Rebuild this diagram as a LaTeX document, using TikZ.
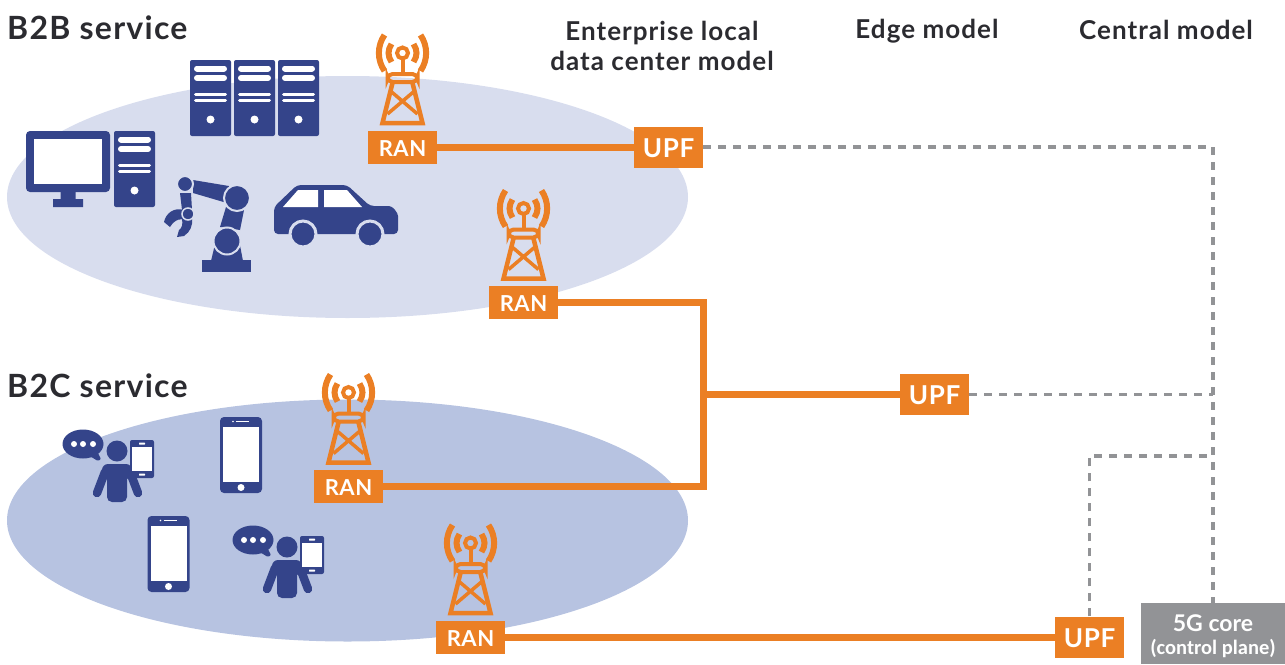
\documentclass[tikz,border=0pt]{standalone}
\usepackage{fontspec}
\setmainfont{Lato}
\newfontfamily\condfont{Carlito}
\newfontfamily\wideheadfont[LetterSpace=4,BoldFont={Lato Bold}]{Lato}
\newfontfamily\widelabelfont[LetterSpace=2.5,BoldFont={Lato Bold}]{Lato}
\usepackage{tikz}
\usetikzlibrary{shapes.geometric}

\definecolor{RanOrange}{HTML}{EB7F24}
\definecolor{IconBlue}{HTML}{34448A}
\definecolor{BizFill}{HTML}{D8DDEE}
\definecolor{ConsFill}{HTML}{B7C3E1}
\definecolor{CoreGray}{HTML}{929396}
\definecolor{HeadText}{HTML}{2B2B30}

\tikzset{
  ranbox/.style={fill=RanOrange, text=white, font=\widelabelfont\fontsize{22}{22}\selectfont\bfseries,
    text height=18pt, minimum width=69pt, minimum height=33pt, inner sep=0pt},
  upfbox/.style={fill=RanOrange, text=white, font=\widelabelfont\fontsize{26}{26}\selectfont\bfseries,
    text height=21pt, minimum width=69pt, minimum height=41pt, inner sep=0pt},
  corebox/.style={fill=CoreGray, text=white, align=center, font=\fontsize{23}{23}\selectfont\bfseries,
    minimum width=144pt, minimum height=61pt, inner sep=0pt},
  zone/.style={ellipse, minimum width=681pt, minimum height=242pt, inner sep=0pt},
  service/.style={text=HeadText, anchor=west, inner sep=0pt, font=\wideheadfont\fontsize{32}{32}\selectfont\bfseries},
  model/.style={text=HeadText, align=center, inner sep=0pt, font=\wideheadfont\fontsize{26}{30}\selectfont\bfseries},
  userline/.style={line width=7pt, draw=RanOrange},
  ctrlline/.style={line width=3.4pt, draw=CoreGray, dash pattern=on 8pt off 7pt},
  pics/tower/.style={code={
    \draw[RanOrange, line width=4pt] (0,-94) circle (5.5);
    \draw[RanOrange, line width=4pt] (0,-89) -- (0,-74);
    \draw[RanOrange, line width=4pt, rounded corners=5pt] (-15,-73) rectangle (15,-65);
    \draw[RanOrange, line width=4.5pt, line join=miter] (-10,-64) -- (-20,-24) -- (20,-24) -- (10,-64);
    \draw[RanOrange, line width=3.5pt] (-12,-56) -- (15,-33) (12,-56) -- (-15,-33);
    \foreach \sgn in {-1,1} {
      \draw[RanOrange, line width=6pt] (\sgn*11,-103) .. controls (\sgn*15,-97) and (\sgn*15,-91) .. (\sgn*11,-85);
      \draw[RanOrange, line width=6pt] (\sgn*18,-112) .. controls (\sgn*25.5,-101) and (\sgn*25.5,-87) .. (\sgn*18,-76);
    }
  }},
  pics/rack/.style={code={
    \fill[IconBlue, rounded corners=2pt] (0,0) rectangle (41,76);
    \foreach \yy in {8.5,18} \draw[white, line width=6pt, line cap=round] (7,\yy) -- (34,\yy);
    \foreach \yy in {34,40.5} \draw[white, line width=3pt, line cap=round] (5.5,\yy) -- (35.5,\yy);
    \fill[white] (20.5,59.5) circle (4);
  }},
  pics/phone/.style={code={
    \fill[IconBlue, rounded corners=4pt] (-21,-38) rectangle (21,38);
    \fill[white] (-18,-28) rectangle (18,27);
    \fill[white] (0,32.5) circle (3.5);
    \fill[white] (-8,-33.5) circle (0.9);
    \draw[white, line width=1.2pt] (-5,-33.5) -- (8,-33.5);
  }},
  pics/person/.style={code={
    \fill[IconBlue] (0,0) circle (10.5);
    \fill[IconBlue, rounded corners=5pt] (-10,51) -- (-10,13) -- (10,13) -- (10,51) -- cycle;
    \fill[IconBlue, rounded corners=6pt] (-15,28) -- (-15,13) -- (15,13) -- (15,28) -- cycle;
    \draw[IconBlue, line width=8.5pt, line cap=round] (-12,21) -- (-20,42) (13,21) -- (21,42);
    \fill[IconBlue, rounded corners=2pt] (13,-11) rectangle (37,27);
    \fill[white] (15,-4) rectangle (35,20);
    \fill[white, rounded corners=0.5pt] (22,-8.5) rectangle (28,-6.5);
    \fill[white, rounded corners=0.5pt] (22,22.5) rectangle (28,24.5);
    \fill[IconBlue] (-34,-7) ellipse (20.5 and 14.5);
    \fill[IconBlue, rounded corners=1pt] (-29,4) -- (-20,0) -- (-16,8) -- (-19,10) -- cycle;
    \fill[white] (-43,-7) circle (3) (-34,-7) circle (3) (-24,-7) circle (3);
  }}
}

\begin{document}
\begin{tikzpicture}[x=1pt, y=-1pt]
  \useasboundingbox (0,0) rectangle (1285,664);

  \node[zone, fill=BizFill] (bizzone) at (347.5,197) {};
  \node[zone, fill=ConsFill] (conszone) at (347.5,520.5) {};

  \node[service] (b2b) at (7,28) {B2B service};
  \node[service] (b2c) at (7,386) {B2C service};
  \node[model] (enterprise) at (662,45.5) {Enterprise local\\data center model};
  \node[model] (edge) at (927,31.5) {Edge model};
  \node[model] (central) at (1166,30) {Central model};

  % business devices
  \foreach \xx in {190,234,278} \path (\xx,60) pic {rack};
  \path (114,131) pic {rack};

  \fill[IconBlue, rounded corners=4pt] (26,131) rectangle (110,192);
  \fill[white] (34,139) rectangle (102,184);
  \fill[IconBlue] (60.5,190) rectangle (75.5,200) (53,199) rectangle (83,207);

  \fill[IconBlue] (211,261) -- (216,240) -- (239,240) -- (243,261) -- cycle;
  \fill[IconBlue] (202,260) rectangle (251,272);
  \fill[IconBlue] (193,180) -- (229,186) -- (227,203) -- (193,193) -- cycle;
  \fill[IconBlue] (226,207) -- (244,210) -- (240,230) -- (220,227) -- cycle;
  \fill[IconBlue] (180,193) -- (191,193) -- (192,210) -- (182,210) -- cycle;
  \fill[IconBlue, draw=BizFill, line width=2pt] (185,184) circle (8);
  \fill[IconBlue, draw=BizFill, line width=2pt] (237,198) circle (13);
  \fill[IconBlue, draw=BizFill, line width=2pt] (227,241) circle (13.5);
  \fill[IconBlue] (164,222) .. controls (166,213) and (174,207) .. (184,210)
    -- (187,220) .. controls (181,218) and (175,219) .. (170,227) -- cycle;
  \fill[IconBlue] (177,237) -- (184,236) .. controls (190,232) and (193,226) .. (192,218)
    -- (182,219) .. controls (183,224) and (182,228) .. (179,230) -- cycle;
  \fill[IconBlue, draw=BizFill, line width=1.5pt] (188,214) circle (6);

  \fill[IconBlue, rounded corners=4pt] (274,234) -- (274,207) -- (297,185) -- (347,185)
    -- (370,206) -- (385,206) .. controls (393,206) and (398,213) .. (398,220) -- (398,234) -- cycle;
  \fill[white] (283,207) -- (298,190) -- (318,190) -- (318,207) -- cycle;
  \fill[white] (324,190) -- (347,190) -- (362,207) -- (324,207) -- cycle;
  \foreach \xx in {303,370} {
    \fill[IconBlue, draw=BizFill, line width=3pt] (\xx,234) circle (13);
  }

  % consumer devices
  \path (241,455) pic {phone};
  \path (168.5,554) pic {phone};
  \path (117,451) pic {person};
  \path (287,547) pic {person};

  \node[ranbox] (ran1) at (402.5,147) {RAN};
  \node[ranbox] (ran2) at (523.5,302.5) {RAN};
  \node[ranbox] (ran3) at (348.5,486.5) {RAN};
  \node[ranbox] (ran4) at (470.5,637) {RAN};
  \path (ran1.center) pic {tower};
  \path (ran2.center) pic {tower};
  \path (ran3.center) pic {tower};
  \path (ran4.center) pic {tower};

  \node[upfbox] (upf1) at (668.5,147) {UPF};
  \node[upfbox] (upf2) at (934.5,394.5) {UPF};
  \node[upfbox] (upf3) at (1089.5,637) {UPF};
  \node[corebox] (core) at (1213,633.5) {\rule{0pt}{22pt}5G core\\{\condfont\bfseries\fontsize{20.5}{23}\selectfont (control plane)}};

  \coordinate (branch) at (703,394.5);
  \coordinate (corejoin) at (1213,456);

  \draw[userline] (ran1.east) -- (upf1.west);
  \draw[userline] (ran2.east) -| (branch) |- (ran3.east);
  \draw[userline] (branch) -- (upf2.west);
  \draw[userline] (ran4.east) -- (upf3.west);

  \draw[ctrlline] (upf1.east) -| (core.north);
  \draw[ctrlline] (upf2.east) -- (upf2 -| core);
  \draw[ctrlline] (upf3.north) |- (corejoin);
\end{tikzpicture}
\end{document}
